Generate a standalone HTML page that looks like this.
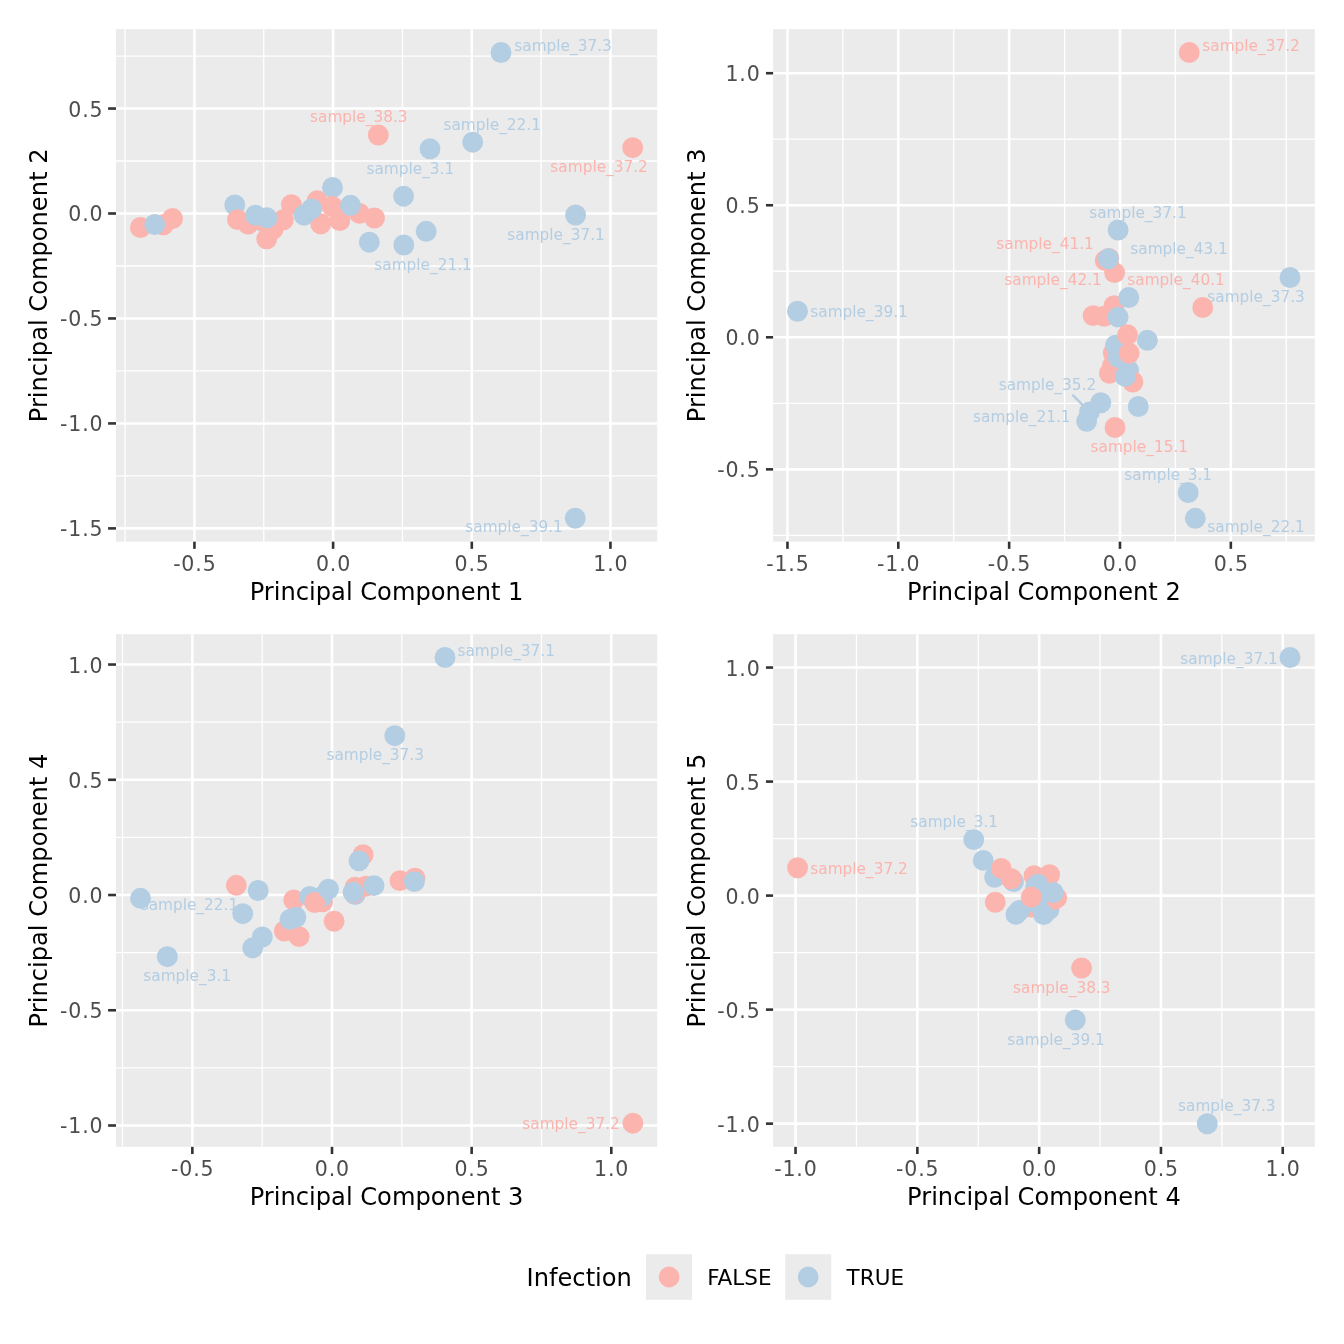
<!DOCTYPE html>
<html lang="en">
<head>
<meta charset="utf-8">
<title>PCA plots</title>
<style>
html,body{margin:0;padding:0;background:#fff;}
svg{display:block;}
text{font-family:"DejaVu Sans","Liberation Sans",sans-serif;}
.tk{font-size:20.5px;fill:#4D4D4D;letter-spacing:0.85px;}
.ti{font-size:24.15px;fill:#000;}
.lb{font-size:15.33px;}
.lg{font-size:21.5px;fill:#000;}
.gM{stroke:#fff;stroke-width:2.6;}
.gm{stroke:#fff;stroke-width:1.3;}
.tc{stroke:#333;stroke-width:2.6;}
</style>
</head>
<body>
<svg width="1344" height="1344" viewBox="0 0 1344 1344">
<rect x="0" y="0" width="1344" height="1344" fill="#fff"/>
<g id="panel1">
<rect x="116" y="29.1" width="541.2" height="512.55" fill="#EBEBEB"/>
<line class="gm" x1="116" x2="657.2" y1="56.06" y2="56.06"/>
<line class="gm" x1="116" x2="657.2" y1="161.02" y2="161.02"/>
<line class="gm" x1="116" x2="657.2" y1="265.98" y2="265.98"/>
<line class="gm" x1="116" x2="657.2" y1="370.94" y2="370.94"/>
<line class="gm" x1="116" x2="657.2" y1="475.91" y2="475.91"/>
<line class="gm" x1="125.1" x2="125.1" y1="29.1" y2="541.65"/>
<line class="gm" x1="263.77" x2="263.77" y1="29.1" y2="541.65"/>
<line class="gm" x1="402.45" x2="402.45" y1="29.1" y2="541.65"/>
<line class="gm" x1="541.12" x2="541.12" y1="29.1" y2="541.65"/>
<line class="gM" x1="116" x2="657.2" y1="108.54" y2="108.54"/>
<line class="gM" x1="116" x2="657.2" y1="213.5" y2="213.5"/>
<line class="gM" x1="116" x2="657.2" y1="318.46" y2="318.46"/>
<line class="gM" x1="116" x2="657.2" y1="423.43" y2="423.43"/>
<line class="gM" x1="116" x2="657.2" y1="528.39" y2="528.39"/>
<line class="gM" x1="194.44" x2="194.44" y1="29.1" y2="541.65"/>
<line class="gM" x1="333.11" x2="333.11" y1="29.1" y2="541.65"/>
<line class="gM" x1="471.79" x2="471.79" y1="29.1" y2="541.65"/>
<line class="gM" x1="610.46" x2="610.46" y1="29.1" y2="541.65"/>
<text class="lb" x="310.05" y="122.2" fill="#FBB4AE">sample_38.3</text>
<text class="lb" x="443.45" y="129.7" fill="#B3CDE3">sample_22.1</text>
<text class="lb" x="366.45" y="173.7" fill="#B3CDE3">sample_3.1</text>
<text class="lb" x="514.25" y="50.8" fill="#B3CDE3">sample_37.3</text>
<text class="lb" x="550.35" y="171.7" fill="#FBB4AE">sample_37.2</text>
<text class="lb" x="507.25" y="239.7" fill="#B3CDE3">sample_37.1</text>
<text class="lb" x="374.25" y="270" fill="#B3CDE3">sample_21.1</text>
<text class="lb" x="465.25" y="531.75" fill="#B3CDE3">sample_39.1</text>
<circle cx="234.8" cy="205" r="10.45" fill="#B3CDE3"/>
<circle cx="332.5" cy="187.5" r="10.45" fill="#B3CDE3"/>
<circle cx="261.8" cy="220.9" r="10.45" fill="#B3CDE3"/>
<circle cx="140.4" cy="227.5" r="10.45" fill="#FBB4AE"/>
<circle cx="163.3" cy="224.8" r="10.45" fill="#FBB4AE"/>
<circle cx="172.5" cy="218.5" r="10.45" fill="#FBB4AE"/>
<circle cx="237.5" cy="219.6" r="10.45" fill="#FBB4AE"/>
<circle cx="248.2" cy="224" r="10.45" fill="#FBB4AE"/>
<circle cx="260.8" cy="220" r="10.45" fill="#FBB4AE"/>
<circle cx="266.7" cy="238.8" r="10.45" fill="#FBB4AE"/>
<circle cx="273.1" cy="229.2" r="10.45" fill="#FBB4AE"/>
<circle cx="283.3" cy="219.8" r="10.45" fill="#FBB4AE"/>
<circle cx="291.4" cy="204.6" r="10.45" fill="#FBB4AE"/>
<circle cx="317.1" cy="200.8" r="10.45" fill="#FBB4AE"/>
<circle cx="320.7" cy="223.75" r="10.45" fill="#FBB4AE"/>
<circle cx="332.3" cy="206.5" r="10.45" fill="#FBB4AE"/>
<circle cx="339.75" cy="220.6" r="10.45" fill="#FBB4AE"/>
<circle cx="359.5" cy="213.4" r="10.45" fill="#FBB4AE"/>
<circle cx="374.5" cy="218" r="10.45" fill="#FBB4AE"/>
<circle cx="378.3" cy="135" r="10.45" fill="#FBB4AE"/>
<circle cx="632.7" cy="147.7" r="10.45" fill="#FBB4AE"/>
<circle cx="154.75" cy="224.5" r="10.45" fill="#B3CDE3"/>
<circle cx="255.5" cy="215.2" r="10.45" fill="#B3CDE3"/>
<circle cx="266.9" cy="217.8" r="10.45" fill="#B3CDE3"/>
<circle cx="304" cy="215.2" r="10.45" fill="#B3CDE3"/>
<circle cx="311.6" cy="208.9" r="10.45" fill="#B3CDE3"/>
<circle cx="350.5" cy="205.3" r="10.45" fill="#B3CDE3"/>
<circle cx="369.3" cy="242.2" r="10.45" fill="#B3CDE3"/>
<circle cx="403.6" cy="196.2" r="10.45" fill="#B3CDE3"/>
<circle cx="403.8" cy="245" r="10.45" fill="#B3CDE3"/>
<circle cx="426.2" cy="231.3" r="10.45" fill="#B3CDE3"/>
<circle cx="430" cy="148.8" r="10.45" fill="#B3CDE3"/>
<circle cx="472.7" cy="142.2" r="10.45" fill="#B3CDE3"/>
<circle cx="501" cy="52.5" r="10.45" fill="#B3CDE3"/>
<circle cx="575.6" cy="215" r="10.45" fill="#B3CDE3"/>
<circle cx="575.25" cy="518.25" r="10.45" fill="#B3CDE3"/>
<line class="tc" x1="108.1" x2="116" y1="108.54" y2="108.54"/>
<text class="tk" text-anchor="end" x="103.45" y="116.9">0.5</text>
<line class="tc" x1="108.1" x2="116" y1="213.5" y2="213.5"/>
<text class="tk" text-anchor="end" x="103.45" y="220.9">0.0</text>
<line class="tc" x1="108.1" x2="116" y1="318.46" y2="318.46"/>
<text class="tk" text-anchor="end" x="103.45" y="325.9">-0.5</text>
<line class="tc" x1="108.1" x2="116" y1="423.43" y2="423.43"/>
<text class="tk" text-anchor="end" x="103.45" y="430.9">-1.0</text>
<line class="tc" x1="108.1" x2="116" y1="528.39" y2="528.39"/>
<text class="tk" text-anchor="end" x="103.45" y="535.9">-1.5</text>
<line class="tc" x1="194.44" x2="194.44" y1="541.65" y2="548.85"/>
<text class="tk" text-anchor="middle" x="194.84" y="570.7">-0.5</text>
<line class="tc" x1="333.11" x2="333.11" y1="541.65" y2="548.85"/>
<text class="tk" text-anchor="middle" x="333.51" y="570.7">0.0</text>
<line class="tc" x1="471.79" x2="471.79" y1="541.65" y2="548.85"/>
<text class="tk" text-anchor="middle" x="472.19" y="570.7">0.5</text>
<line class="tc" x1="610.46" x2="610.46" y1="541.65" y2="548.85"/>
<text class="tk" text-anchor="middle" x="610.86" y="570.7">1.0</text>
<text class="ti" text-anchor="middle" x="386.6" y="599.85">Principal Component 1</text>
<text class="ti" text-anchor="middle" transform="translate(46.9 285.38) rotate(-90)">Principal Component 2</text>
</g>
<g id="panel2">
<rect x="773.1" y="29.1" width="541.7" height="512.55" fill="#EBEBEB"/>
<line class="gm" x1="773.1" x2="1314.8" y1="139.22" y2="139.22"/>
<line class="gm" x1="773.1" x2="1314.8" y1="271.27" y2="271.27"/>
<line class="gm" x1="773.1" x2="1314.8" y1="403.33" y2="403.33"/>
<line class="gm" x1="773.1" x2="1314.8" y1="535.38" y2="535.38"/>
<line class="gm" x1="842.88" x2="842.88" y1="29.1" y2="541.65"/>
<line class="gm" x1="953.73" x2="953.73" y1="29.1" y2="541.65"/>
<line class="gm" x1="1064.57" x2="1064.57" y1="29.1" y2="541.65"/>
<line class="gm" x1="1175.41" x2="1175.41" y1="29.1" y2="541.65"/>
<line class="gm" x1="1286.25" x2="1286.25" y1="29.1" y2="541.65"/>
<line class="gM" x1="773.1" x2="1314.8" y1="73.2" y2="73.2"/>
<line class="gM" x1="773.1" x2="1314.8" y1="205.25" y2="205.25"/>
<line class="gM" x1="773.1" x2="1314.8" y1="337.3" y2="337.3"/>
<line class="gM" x1="773.1" x2="1314.8" y1="469.35" y2="469.35"/>
<line class="gM" x1="787.46" x2="787.46" y1="29.1" y2="541.65"/>
<line class="gM" x1="898.31" x2="898.31" y1="29.1" y2="541.65"/>
<line class="gM" x1="1009.15" x2="1009.15" y1="29.1" y2="541.65"/>
<line class="gM" x1="1119.99" x2="1119.99" y1="29.1" y2="541.65"/>
<line class="gM" x1="1230.83" x2="1230.83" y1="29.1" y2="541.65"/>
<text class="lb" x="1202.25" y="51" fill="#FBB4AE">sample_37.2</text>
<text class="lb" x="1089.15" y="218" fill="#B3CDE3">sample_37.1</text>
<text class="lb" x="996.25" y="248.75" fill="#FBB4AE">sample_41.1</text>
<text class="lb" x="1130.25" y="254" fill="#B3CDE3">sample_43.1</text>
<text class="lb" x="1004.25" y="285" fill="#FBB4AE">sample_42.1</text>
<text class="lb" x="1127.25" y="285" fill="#FBB4AE">sample_40.1</text>
<text class="lb" x="1207.25" y="302" fill="#B3CDE3">sample_37.3</text>
<text class="lb" x="810.25" y="317" fill="#B3CDE3">sample_39.1</text>
<text class="lb" x="998.65" y="390" fill="#B3CDE3">sample_35.2</text>
<text class="lb" x="973.05" y="422" fill="#B3CDE3">sample_21.1</text>
<text class="lb" x="1090.5" y="451.5" fill="#FBB4AE">sample_15.1</text>
<text class="lb" x="1124.35" y="479.7" fill="#B3CDE3">sample_3.1</text>
<text class="lb" x="1207.25" y="531.7" fill="#B3CDE3">sample_22.1</text>
<line x1="1073.1" y1="395.3" x2="1084" y2="406.4" stroke="#B3CDE3" stroke-width="2.5" stroke-linecap="round"/>
<circle cx="1105.25" cy="260.5" r="10.45" fill="#FBB4AE"/>
<circle cx="1108.8" cy="258.4" r="10.45" fill="#FBB4AE"/>
<circle cx="1114.6" cy="272.6" r="10.45" fill="#FBB4AE"/>
<circle cx="1108.4" cy="258.8" r="10.45" fill="#B3CDE3"/>
<circle cx="1118.1" cy="230" r="10.45" fill="#B3CDE3"/>
<circle cx="1114.1" cy="305.6" r="10.45" fill="#FBB4AE"/>
<circle cx="1093.1" cy="315.6" r="10.45" fill="#FBB4AE"/>
<circle cx="1104.1" cy="316.25" r="10.45" fill="#FBB4AE"/>
<circle cx="1128.75" cy="297.5" r="10.45" fill="#B3CDE3"/>
<circle cx="1118.1" cy="317.1" r="10.45" fill="#B3CDE3"/>
<circle cx="1202.7" cy="307.5" r="10.45" fill="#FBB4AE"/>
<circle cx="1113.25" cy="352.9" r="10.45" fill="#FBB4AE"/>
<circle cx="1112.6" cy="365.75" r="10.45" fill="#FBB4AE"/>
<circle cx="1109.4" cy="373.25" r="10.45" fill="#FBB4AE"/>
<circle cx="1115.5" cy="345.1" r="10.45" fill="#B3CDE3"/>
<circle cx="1118.25" cy="357.6" r="10.45" fill="#B3CDE3"/>
<circle cx="1128.6" cy="370.1" r="10.45" fill="#B3CDE3"/>
<circle cx="1127.5" cy="334.8" r="10.45" fill="#FBB4AE"/>
<circle cx="1129.1" cy="353.25" r="10.45" fill="#FBB4AE"/>
<circle cx="1147.4" cy="340.3" r="10.45" fill="#B3CDE3"/>
<circle cx="1132.9" cy="382" r="10.45" fill="#FBB4AE"/>
<circle cx="1125.2" cy="376.4" r="10.45" fill="#B3CDE3"/>
<circle cx="1138.25" cy="406.5" r="10.45" fill="#B3CDE3"/>
<circle cx="1100.75" cy="402.75" r="10.45" fill="#B3CDE3"/>
<circle cx="1089.5" cy="411.9" r="10.45" fill="#B3CDE3"/>
<circle cx="1086.6" cy="421.25" r="10.45" fill="#B3CDE3"/>
<circle cx="1115" cy="427.5" r="10.45" fill="#FBB4AE"/>
<circle cx="797.5" cy="311.25" r="10.45" fill="#B3CDE3"/>
<circle cx="1189.25" cy="52.5" r="10.45" fill="#FBB4AE"/>
<circle cx="1290" cy="277.5" r="10.45" fill="#B3CDE3"/>
<circle cx="1188.2" cy="492.5" r="10.45" fill="#B3CDE3"/>
<circle cx="1195.3" cy="518.3" r="10.45" fill="#B3CDE3"/>
<line class="tc" x1="765.95" x2="773.1" y1="73.2" y2="73.2"/>
<text class="tk" text-anchor="end" x="760.55" y="80.9">1.0</text>
<line class="tc" x1="765.95" x2="773.1" y1="205.25" y2="205.25"/>
<text class="tk" text-anchor="end" x="760.55" y="212.9">0.5</text>
<line class="tc" x1="765.95" x2="773.1" y1="337.3" y2="337.3"/>
<text class="tk" text-anchor="end" x="760.55" y="344.9">0.0</text>
<line class="tc" x1="765.95" x2="773.1" y1="469.35" y2="469.35"/>
<text class="tk" text-anchor="end" x="760.55" y="476.9">-0.5</text>
<line class="tc" x1="787.46" x2="787.46" y1="541.65" y2="548.85"/>
<text class="tk" text-anchor="middle" x="787.86" y="570.7">-1.5</text>
<line class="tc" x1="898.31" x2="898.31" y1="541.65" y2="548.85"/>
<text class="tk" text-anchor="middle" x="898.71" y="570.7">-1.0</text>
<line class="tc" x1="1009.15" x2="1009.15" y1="541.65" y2="548.85"/>
<text class="tk" text-anchor="middle" x="1009.55" y="570.7">-0.5</text>
<line class="tc" x1="1119.99" x2="1119.99" y1="541.65" y2="548.85"/>
<text class="tk" text-anchor="middle" x="1120.39" y="570.7">0.0</text>
<line class="tc" x1="1230.83" x2="1230.83" y1="541.65" y2="548.85"/>
<text class="tk" text-anchor="middle" x="1231.23" y="570.7">0.5</text>
<text class="ti" text-anchor="middle" x="1043.95" y="599.85">Principal Component 2</text>
<text class="ti" text-anchor="middle" transform="translate(705.1 285.38) rotate(-90)">Principal Component 3</text>
</g>
<g id="panel3">
<rect x="116" y="634.2" width="541.2" height="512.65" fill="#EBEBEB"/>
<line class="gm" x1="116" x2="657.2" y1="722.16" y2="722.16"/>
<line class="gm" x1="116" x2="657.2" y1="837.4" y2="837.4"/>
<line class="gm" x1="116" x2="657.2" y1="952.64" y2="952.64"/>
<line class="gm" x1="116" x2="657.2" y1="1067.88" y2="1067.88"/>
<line class="gm" x1="122.52" x2="122.52" y1="634.2" y2="1146.85"/>
<line class="gm" x1="262.18" x2="262.18" y1="634.2" y2="1146.85"/>
<line class="gm" x1="401.82" x2="401.82" y1="634.2" y2="1146.85"/>
<line class="gm" x1="541.48" x2="541.48" y1="634.2" y2="1146.85"/>
<line class="gM" x1="116" x2="657.2" y1="664.54" y2="664.54"/>
<line class="gM" x1="116" x2="657.2" y1="779.78" y2="779.78"/>
<line class="gM" x1="116" x2="657.2" y1="895.02" y2="895.02"/>
<line class="gM" x1="116" x2="657.2" y1="1010.26" y2="1010.26"/>
<line class="gM" x1="116" x2="657.2" y1="1125.5" y2="1125.5"/>
<line class="gM" x1="192.35" x2="192.35" y1="634.2" y2="1146.85"/>
<line class="gM" x1="332" x2="332" y1="634.2" y2="1146.85"/>
<line class="gM" x1="471.65" x2="471.65" y1="634.2" y2="1146.85"/>
<line class="gM" x1="611.3" x2="611.3" y1="634.2" y2="1146.85"/>
<text class="lb" x="140.65" y="910" fill="#B3CDE3">sample_22.1</text>
<text class="lb" x="143.25" y="980.8" fill="#B3CDE3">sample_3.1</text>
<text class="lb" x="457.45" y="655.5" fill="#B3CDE3">sample_37.1</text>
<text class="lb" x="326.45" y="759.6" fill="#B3CDE3">sample_37.3</text>
<text class="lb" x="522.25" y="1128.6" fill="#FBB4AE">sample_37.2</text>
<circle cx="140.5" cy="898.3" r="10.45" fill="#B3CDE3"/>
<circle cx="167.3" cy="956.7" r="10.45" fill="#B3CDE3"/>
<circle cx="236.3" cy="885.3" r="10.45" fill="#FBB4AE"/>
<circle cx="258.2" cy="890.5" r="10.45" fill="#B3CDE3"/>
<circle cx="242.7" cy="913.7" r="10.45" fill="#B3CDE3"/>
<circle cx="252.7" cy="947.8" r="10.45" fill="#B3CDE3"/>
<circle cx="262.3" cy="937" r="10.45" fill="#B3CDE3"/>
<circle cx="284.4" cy="931" r="10.45" fill="#FBB4AE"/>
<circle cx="299" cy="936.6" r="10.45" fill="#FBB4AE"/>
<circle cx="293.75" cy="900" r="10.45" fill="#FBB4AE"/>
<circle cx="290" cy="919.4" r="10.45" fill="#B3CDE3"/>
<circle cx="295.9" cy="917.25" r="10.45" fill="#B3CDE3"/>
<circle cx="309.75" cy="896.5" r="10.45" fill="#B3CDE3"/>
<circle cx="322.5" cy="901.9" r="10.45" fill="#FBB4AE"/>
<circle cx="322.5" cy="896.25" r="10.45" fill="#B3CDE3"/>
<circle cx="314.75" cy="902.5" r="10.45" fill="#FBB4AE"/>
<circle cx="328.5" cy="889.1" r="10.45" fill="#B3CDE3"/>
<circle cx="334.1" cy="921.25" r="10.45" fill="#FBB4AE"/>
<circle cx="363.1" cy="854.75" r="10.45" fill="#FBB4AE"/>
<circle cx="359" cy="860.9" r="10.45" fill="#B3CDE3"/>
<circle cx="355.06" cy="894.56" r="10.45" fill="#B3CDE3"/>
<circle cx="365.7" cy="886.3" r="10.45" fill="#FBB4AE"/>
<circle cx="355.06" cy="887.25" r="10.45" fill="#FBB4AE"/>
<circle cx="354.1" cy="892.75" r="10.45" fill="#FBB4AE"/>
<circle cx="353.06" cy="892.25" r="10.45" fill="#B3CDE3"/>
<circle cx="374" cy="885.6" r="10.45" fill="#B3CDE3"/>
<circle cx="400" cy="880.6" r="10.45" fill="#FBB4AE"/>
<circle cx="415" cy="878.1" r="10.45" fill="#FBB4AE"/>
<circle cx="414.4" cy="881.6" r="10.45" fill="#B3CDE3"/>
<circle cx="445" cy="657.5" r="10.45" fill="#B3CDE3"/>
<circle cx="394.8" cy="735.7" r="10.45" fill="#B3CDE3"/>
<circle cx="632.9" cy="1123.2" r="10.45" fill="#FBB4AE"/>
<line class="tc" x1="108.1" x2="116" y1="664.54" y2="664.54"/>
<text class="tk" text-anchor="end" x="103.45" y="672.9">1.0</text>
<line class="tc" x1="108.1" x2="116" y1="779.78" y2="779.78"/>
<text class="tk" text-anchor="end" x="103.45" y="787.9">0.5</text>
<line class="tc" x1="108.1" x2="116" y1="895.02" y2="895.02"/>
<text class="tk" text-anchor="end" x="103.45" y="902.9">0.0</text>
<line class="tc" x1="108.1" x2="116" y1="1010.26" y2="1010.26"/>
<text class="tk" text-anchor="end" x="103.45" y="1017.9">-0.5</text>
<line class="tc" x1="108.1" x2="116" y1="1125.5" y2="1125.5"/>
<text class="tk" text-anchor="end" x="103.45" y="1132.9">-1.0</text>
<line class="tc" x1="192.35" x2="192.35" y1="1146.85" y2="1154.05"/>
<text class="tk" text-anchor="middle" x="192.75" y="1175.9">-0.5</text>
<line class="tc" x1="332" x2="332" y1="1146.85" y2="1154.05"/>
<text class="tk" text-anchor="middle" x="332.4" y="1175.9">0.0</text>
<line class="tc" x1="471.65" x2="471.65" y1="1146.85" y2="1154.05"/>
<text class="tk" text-anchor="middle" x="472.05" y="1175.9">0.5</text>
<line class="tc" x1="611.3" x2="611.3" y1="1146.85" y2="1154.05"/>
<text class="tk" text-anchor="middle" x="611.7" y="1175.9">1.0</text>
<text class="ti" text-anchor="middle" x="386.6" y="1205.05">Principal Component 3</text>
<text class="ti" text-anchor="middle" transform="translate(46.9 890.52) rotate(-90)">Principal Component 4</text>
</g>
<g id="panel4">
<rect x="773.1" y="634.2" width="541.7" height="512.65" fill="#EBEBEB"/>
<line class="gm" x1="773.1" x2="1314.8" y1="724.56" y2="724.56"/>
<line class="gm" x1="773.1" x2="1314.8" y1="838.59" y2="838.59"/>
<line class="gm" x1="773.1" x2="1314.8" y1="952.61" y2="952.61"/>
<line class="gm" x1="773.1" x2="1314.8" y1="1066.64" y2="1066.64"/>
<line class="gm" x1="856.45" x2="856.45" y1="634.2" y2="1146.85"/>
<line class="gm" x1="978.25" x2="978.25" y1="634.2" y2="1146.85"/>
<line class="gm" x1="1100.05" x2="1100.05" y1="634.2" y2="1146.85"/>
<line class="gm" x1="1221.85" x2="1221.85" y1="634.2" y2="1146.85"/>
<line class="gM" x1="773.1" x2="1314.8" y1="667.55" y2="667.55"/>
<line class="gM" x1="773.1" x2="1314.8" y1="781.58" y2="781.58"/>
<line class="gM" x1="773.1" x2="1314.8" y1="895.6" y2="895.6"/>
<line class="gM" x1="773.1" x2="1314.8" y1="1009.62" y2="1009.62"/>
<line class="gM" x1="773.1" x2="1314.8" y1="1123.65" y2="1123.65"/>
<line class="gM" x1="795.55" x2="795.55" y1="634.2" y2="1146.85"/>
<line class="gM" x1="917.35" x2="917.35" y1="634.2" y2="1146.85"/>
<line class="gM" x1="1039.15" x2="1039.15" y1="634.2" y2="1146.85"/>
<line class="gM" x1="1160.95" x2="1160.95" y1="634.2" y2="1146.85"/>
<line class="gM" x1="1282.75" x2="1282.75" y1="634.2" y2="1146.85"/>
<text class="lb" x="910.25" y="827.2" fill="#B3CDE3">sample_3.1</text>
<text class="lb" x="810.25" y="874" fill="#FBB4AE">sample_37.2</text>
<text class="lb" x="1013" y="993" fill="#FBB4AE">sample_38.3</text>
<text class="lb" x="1007.25" y="1045" fill="#B3CDE3">sample_39.1</text>
<text class="lb" x="1178" y="1110.75" fill="#B3CDE3">sample_37.3</text>
<text class="lb" x="1180.25" y="663.7" fill="#B3CDE3">sample_37.1</text>
<circle cx="973.75" cy="839.6" r="10.45" fill="#B3CDE3"/>
<circle cx="983.25" cy="860.4" r="10.45" fill="#B3CDE3"/>
<circle cx="994.6" cy="877.25" r="10.45" fill="#B3CDE3"/>
<circle cx="1013.5" cy="881.6" r="10.45" fill="#B3CDE3"/>
<circle cx="1001.25" cy="868.4" r="10.45" fill="#FBB4AE"/>
<circle cx="1011.25" cy="878.75" r="10.45" fill="#FBB4AE"/>
<circle cx="995.25" cy="902.25" r="10.45" fill="#FBB4AE"/>
<circle cx="1034" cy="875.6" r="10.45" fill="#FBB4AE"/>
<circle cx="1049.6" cy="874.75" r="10.45" fill="#FBB4AE"/>
<circle cx="1031.5" cy="907" r="10.45" fill="#FBB4AE"/>
<circle cx="1049" cy="909.5" r="10.45" fill="#B3CDE3"/>
<circle cx="1054" cy="899.56" r="10.45" fill="#FBB4AE"/>
<circle cx="1056.7" cy="897.8" r="10.45" fill="#FBB4AE"/>
<circle cx="1041.5" cy="893" r="10.45" fill="#B3CDE3"/>
<circle cx="1035.56" cy="887.06" r="10.45" fill="#B3CDE3"/>
<circle cx="1037.75" cy="884.25" r="10.45" fill="#B3CDE3"/>
<circle cx="1053.2" cy="892.5" r="10.45" fill="#B3CDE3"/>
<circle cx="1037.5" cy="903.9" r="10.45" fill="#B3CDE3"/>
<circle cx="1019.4" cy="910.5" r="10.45" fill="#B3CDE3"/>
<circle cx="1015.9" cy="914.4" r="10.45" fill="#B3CDE3"/>
<circle cx="1043.7" cy="914.56" r="10.45" fill="#B3CDE3"/>
<circle cx="1031.25" cy="897.06" r="10.45" fill="#FBB4AE"/>
<circle cx="1081.6" cy="968" r="10.45" fill="#FBB4AE"/>
<circle cx="1075.25" cy="1020" r="10.45" fill="#B3CDE3"/>
<circle cx="1207.25" cy="1123.75" r="10.45" fill="#B3CDE3"/>
<circle cx="1290" cy="657.5" r="10.45" fill="#B3CDE3"/>
<circle cx="797.6" cy="867.75" r="10.45" fill="#FBB4AE"/>
<line class="tc" x1="765.95" x2="773.1" y1="667.55" y2="667.55"/>
<text class="tk" text-anchor="end" x="760.55" y="675.9">1.0</text>
<line class="tc" x1="765.95" x2="773.1" y1="781.58" y2="781.58"/>
<text class="tk" text-anchor="end" x="760.55" y="789.9">0.5</text>
<line class="tc" x1="765.95" x2="773.1" y1="895.6" y2="895.6"/>
<text class="tk" text-anchor="end" x="760.55" y="903.9">0.0</text>
<line class="tc" x1="765.95" x2="773.1" y1="1009.62" y2="1009.62"/>
<text class="tk" text-anchor="end" x="760.55" y="1017.9">-0.5</text>
<line class="tc" x1="765.95" x2="773.1" y1="1123.65" y2="1123.65"/>
<text class="tk" text-anchor="end" x="760.55" y="1131.9">-1.0</text>
<line class="tc" x1="795.55" x2="795.55" y1="1146.85" y2="1154.05"/>
<text class="tk" text-anchor="middle" x="795.95" y="1175.9">-1.0</text>
<line class="tc" x1="917.35" x2="917.35" y1="1146.85" y2="1154.05"/>
<text class="tk" text-anchor="middle" x="917.75" y="1175.9">-0.5</text>
<line class="tc" x1="1039.15" x2="1039.15" y1="1146.85" y2="1154.05"/>
<text class="tk" text-anchor="middle" x="1039.55" y="1175.9">0.0</text>
<line class="tc" x1="1160.95" x2="1160.95" y1="1146.85" y2="1154.05"/>
<text class="tk" text-anchor="middle" x="1161.35" y="1175.9">0.5</text>
<line class="tc" x1="1282.75" x2="1282.75" y1="1146.85" y2="1154.05"/>
<text class="tk" text-anchor="middle" x="1283.15" y="1175.9">1.0</text>
<text class="ti" text-anchor="middle" x="1043.95" y="1205.05">Principal Component 4</text>
<text class="ti" text-anchor="middle" transform="translate(705.1 890.52) rotate(-90)">Principal Component 5</text>
</g>
<g id="legend">
<text class="ti" x="526.6" y="1285.6">Infection</text>
<rect x="646" y="1254.2" width="46" height="45.6" fill="#EBEBEB"/>
<circle cx="669.1" cy="1277" r="10.4" fill="#FBB4AE"/>
<text class="lg" x="707.2" y="1285">FALSE</text>
<rect x="785.2" y="1254.2" width="46" height="45.6" fill="#EBEBEB"/>
<circle cx="808.2" cy="1277" r="10.4" fill="#B3CDE3"/>
<text class="lg" x="846.6" y="1285">TRUE</text>
</g>
</svg>
</body>
</html>
